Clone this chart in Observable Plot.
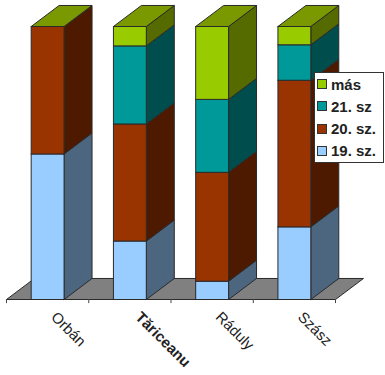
<!DOCTYPE html>
<html><head><meta charset="utf-8">
<script src="https://cdn.jsdelivr.net/npm/d3@7"></script>
<script src="https://cdn.jsdelivr.net/npm/@observablehq/plot@0.6"></script>
<style>
html,body{margin:0;padding:0;background:#fff}
#wrap{position:relative;width:385px;height:375px;overflow:hidden;font-family:"Liberation Sans",Arial,sans-serif}
#legend{position:absolute;left:314px;top:72px;width:68px;height:89px;background:#fff;border:1px solid #333;box-sizing:content-box}
.row{position:absolute;left:2px;height:20px;display:flex;align-items:center;font-weight:bold;font-size:15px;color:#222;white-space:nowrap}
.sw{display:inline-block;width:8px;height:8px;border:1px solid #333;margin-right:4px}
</style></head><body><div id="wrap"><div id="chart"></div><div id="legend"></div></div>
<script>
const candidates = ["Orbán","Tăriceanu","Ráduly","Szász"];
const boldCandidate = "Tăriceanu";
const seriesNames = ["19. sz.","20. sz.","21. sz","más"];
const sz19 = [53.3,21.4,6.7,26.6];
const sz20 = [46.7,42.9,39.9,53.7];
const sz21 = [0,28.6,26.7,13.0];
const mas  = [0,7.1,26.7,6.7];
const frontColors = ["#99ccff","#993300","#009999","#99cc00"];
const sideColors  = ["#4d6680","#4d1a00","#004d4d","#556b00"];
const topColor = "#7a9900", floorColor = "#808080", edge = "#2a2a2a";
const barWidth = 0.4, depthX = 0.34, depthY = 7.7;
const seriesValues = [sz19,sz20,sz21,mas];

const polys = [];
let id = 0;
const poly = (pts, fill) => { const z = id++; [...pts, pts[0]].forEach(([x,y]) => polys.push({x,y,z,fill})); };

poly([[0,0],[depthX,depthY],[4+depthX,depthY],[4,0]], floorColor);
candidates.forEach((name,i) => {
  const x1 = i + 0.5 - barWidth/2, x2 = i + 0.5 + barWidth/2;
  let base = 0;
  seriesValues.forEach((vals,s) => {
    const v = vals[i];
    if (v > 0) {
      poly([[x2,base],[x2+depthX,base+depthY],[x2+depthX,base+v+depthY],[x2,base+v]], sideColors[s]);
      poly([[x1,base],[x2,base],[x2,base+v],[x1,base+v]], frontColors[s]);
    }
    base += v;
  });
  poly([[x1,base],[x2,base],[x2+depthX,base+depthY],[x1+depthX,base+depthY]], topColor);
});

const labels = candidates.map((name,i) => ({name, x:i+0.5}));
const chart = Plot.plot({
  width:385, height:375, margin:0,
  style:{background:"#fff", fontFamily:'"Liberation Sans",Arial,sans-serif'},
  x:{domain:[0,4], range:[6,335], axis:null},
  y:{domain:[0,100], range:[299,26], axis:null},
  marks:[
    Plot.line(polys,{x:"x",y:"y",z:"z",fill:"fill",stroke:edge,strokeWidth:1,curve:"linear",strokeLinejoin:"miter"}),
    Plot.ruleX([0,1,2,3,4],{x:d=>d,y1:-1.5,y2:0,stroke:"#444",strokeWidth:1}),
    Plot.text(labels.filter(d=>d.name!==boldCandidate),{x:"x",y:0,text:"name",rotate:45,textAnchor:"start",dx:6,dy:15,fontSize:15,fill:"#222"}),
    Plot.text(labels.filter(d=>d.name===boldCandidate),{x:"x",y:0,text:"name",rotate:45,textAnchor:"start",dx:8,dy:15,fontSize:15,fontWeight:"bold",fill:"#222"})
  ]
});
document.getElementById("chart").appendChild(chart);

const lg = document.getElementById("legend");
[3,2,1,0].forEach((s,k) => {
  const r = document.createElement("div");
  r.className = "row"; r.style.top = (1 + k*22.3) + "px";
  const sw = document.createElement("span"); sw.className="sw"; sw.style.background = frontColors[s];
  r.appendChild(sw); r.appendChild(document.createTextNode(seriesNames[s]));
  lg.appendChild(r);
});
</script></body></html>
